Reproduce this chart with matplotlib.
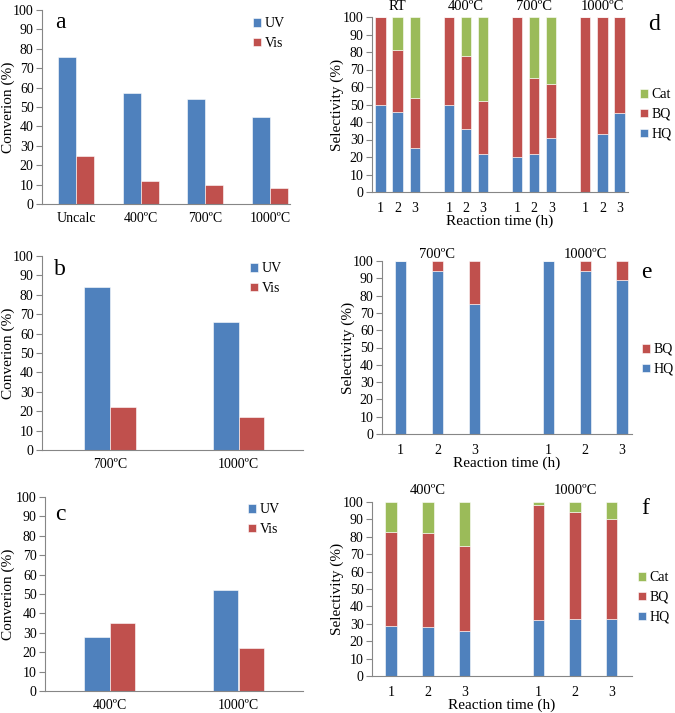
import numpy as np
import matplotlib
matplotlib.use("Agg")
import matplotlib.pyplot as plt

plt.rcParams['font.family'] = ['Liberation Serif', 'DejaVu Serif']
plt.rcParams['font.size'] = 10

BLUE = "#4F81BD"
RED = "#C0504D"
GREEN = "#9BBB59"
GREY = "#868686"

# panel a
cats_a = ["Uncalc", "400ºC", "700ºC", "1000ºC"]
uv_a = [76, 57, 54, 45]
vis_a = [25, 12, 10, 8]

# panel b
cats_b = ["700ºC", "1000ºC"]
uv_b = [84, 66]
vis_b = [22, 17]

# panel c
cats_c = ["400ºC", "1000ºC"]
uv_c = [28, 52]
vis_c = [35, 22]

# panel d
groups_d = ["RT", "400ºC", "700ºC", "1000ºC"]
hq_d = [50, 46, 25, 50, 36, 22, 20, 22, 31, 0, 33, 45]
bq_d = [50, 35, 29, 50, 42, 30, 80, 43, 31, 100, 67, 55]
cat_d = [0, 19, 46, 0, 22, 48, 0, 35, 38, 0, 0, 0]

# panel e
groups_e = ["700ºC", "1000ºC"]
hq_e = [100, 94, 75, 100, 94, 89]
bq_e = [0, 6, 25, 0, 6, 11]

# panel f
groups_f = ["400ºC", "1000ºC"]
hq_f = [29, 28, 26, 32, 33, 33]
bq_f = [54, 54, 49, 66, 61, 57]
cat_f = [17, 18, 25, 2, 6, 10]

times = ["1", "2", "3"]

W, H = 675, 713
fig = plt.figure(figsize=(W / 100, H / 100), dpi=100)


def box(l, t, r, b):
    return [l / W, 1 - b / H, (r - l) / W, (b - t) / H]


def style(ax):
    for s in ["top", "right"]:
        ax.spines[s].set_visible(False)
    for s in ["left", "bottom"]:
        ax.spines[s].set_color(GREY)
        ax.spines[s].set_linewidth(0.8)
    ax.set_ylim(0, 100)
    ax.set_yticks(range(0, 101, 10))
    ax.tick_params(axis="y", direction="out", length=4, color=GREY, labelsize=10, pad=2)
    ax.tick_params(axis="x", length=0, labelsize=10, pad=6)


def ylabel_at(ax, rect, text, lx):
    ax.set_ylabel(text, fontsize=11, va="center")
    ax.yaxis.set_label_coords((lx - rect[0]) / (rect[2] - rect[0]), 0.5)


def legend_at(ax, handles, labels, x, y):
    ax.legend(handles, labels, loc="upper left", bbox_to_anchor=(x / W, 1 - y / H),
              bbox_transform=fig.transFigure, frameon=False, borderaxespad=0,
              borderpad=0, handlelength=0.6, handleheight=0.6, handletextpad=0.25,
              labelspacing=0.5, fontsize=10)


def conv_panel(rect, cats, uv, vis, width, xlim, letter, leg_xy, letter_xy, lx):
    ax = fig.add_axes(box(*rect))
    x = np.arange(len(cats))
    b1 = ax.bar(x - width / 2, uv, width, color=BLUE, edgecolor="white", linewidth=0.4)
    b2 = ax.bar(x + width / 2, vis, width, color=RED, edgecolor="white", linewidth=0.4)
    ax.set_xticks(x)
    ax.set_xticklabels(cats)
    ax.set_xlim(*xlim)
    style(ax)
    ylabel_at(ax, rect, "Converion (%)", lx)
    legend_at(ax, [b1, b2], ["UV", "Vis"], *leg_xy)
    fig.text(letter_xy[0] / W, 1 - letter_xy[1] / H, letter, fontsize=17, va="center")
    return ax


def sel_panel(rect, groups, stacks, names, colors, width, xlim, letter, leg_xy, letter_xy, title_y, lx):
    ax = fig.add_axes(box(*rect))
    x = []
    for g in range(len(groups)):
        x += [g * 4 + i for i in range(3)]
    x = np.array(x)
    bottom = np.zeros(len(x))
    handles = []
    for vals, c in zip(stacks, colors):
        h = ax.bar(x, vals, width, bottom=bottom, color=c, edgecolor="white", linewidth=0.4)
        bottom += np.array(vals)
        handles.append(h)
    ax.set_xticks(x)
    ax.set_xticklabels(times * len(groups))
    ax.set_xlim(*xlim)
    style(ax)
    ax.tick_params(axis="x", pad=7)
    ax.set_xlabel("Reaction time (h)", fontsize=11, labelpad=0)
    ylabel_at(ax, rect, "Selectivity (%)", lx)
    # group titles above the bars
    ty = (rect[3] - title_y) / (rect[3] - rect[1])
    for g, name in enumerate(groups):
        ax.text(g * 4 + 1, ty, name, transform=ax.get_xaxis_transform(),
                ha="center", va="center", fontsize=10.5)
    legend_at(ax, handles[::-1], names[::-1], *leg_xy)
    fig.text(letter_xy[0] / W, 1 - letter_xy[1] / H, letter, fontsize=17, va="center")
    return ax


conv_panel((42, 10, 290, 204), cats_a, uv_a, vis_a, 0.28, (-0.53, 3.31), "a", (253, 17), (55, 23), 8)
conv_panel((42, 256, 303, 450), cats_b, uv_b, vis_b, 0.2, (-0.53, 1.5), "b", (250, 262), (54, 270), 8)
conv_panel((45, 497, 303, 691), cats_c, uv_c, vis_c, 0.2, (-0.5, 1.5), "c", (248, 503), (55, 514), 8)

sel_panel((372, 17, 628, 192), groups_d, [hq_d, bq_d, cat_d], ["HQ", "BQ", "Cat"],
          [BLUE, RED, GREEN], 0.6, (-0.5, 14.5), "d", (640, 88), (648, 25), 7, 337)
sel_panel((382, 261, 632, 434), groups_e, [hq_e, bq_e], ["HQ", "BQ"],
          [BLUE, RED], 0.3, (-0.5, 6.27), "e", (642, 343), (641, 272), 254, 348)
sel_panel((372, 502, 632, 676), groups_f, [hq_f, bq_f, cat_f], ["HQ", "BQ", "Cat"],
          [BLUE, RED, GREEN], 0.31, (-0.52, 6.55), "f", (638, 571), (641, 508), 490, 337)

fig.savefig("out.png", dpi=100)
